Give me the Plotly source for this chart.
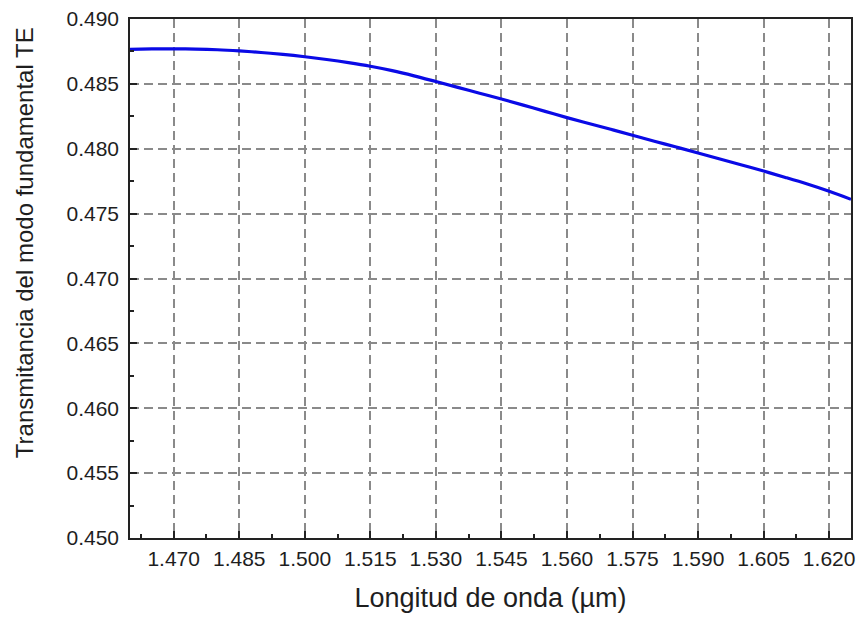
import plotly.graph_objects as go

wavelength = [1.460, 1.465, 1.470, 1.475, 1.480, 1.485, 1.490, 1.495, 1.500,
              1.505, 1.510, 1.515, 1.520, 1.525, 1.530, 1.535, 1.540, 1.545,
              1.550, 1.555, 1.560, 1.565, 1.570, 1.575, 1.580, 1.585, 1.590,
              1.595, 1.600, 1.605, 1.610, 1.615, 1.620, 1.625]
transmittance = [0.48766, 0.48769, 0.48770, 0.48768, 0.48763, 0.48754, 0.48742,
                 0.48727, 0.48709, 0.48688, 0.48664, 0.48636, 0.48602, 0.48562,
                 0.48518, 0.48473, 0.48428, 0.48383, 0.48336, 0.48288, 0.48240,
                 0.48195, 0.48150, 0.48104, 0.48058, 0.48013, 0.47967, 0.47921,
                 0.47875, 0.47828, 0.47779, 0.47728, 0.47672, 0.47610]

x_title = "Longitud de onda (µm)"
y_title = "Transmitancia del modo fundamental TE"

font_family = "Liberation Sans, Arial, sans-serif"
text_color = "#1e1e1e"

fig = go.Figure()
fig.add_trace(go.Scatter(
    x=wavelength, y=transmittance, mode="lines",
    line=dict(color="#0a0ae6", width=3.2, shape="spline", smoothing=1.0),
    showlegend=False, hoverinfo="skip",
))

axis_common = dict(
    showline=True, linecolor="#222222", linewidth=1.5, mirror=True,
    ticks="inside", ticklen=7, tickwidth=1.5, tickcolor="#222222",
    showgrid=True, gridcolor="#8a8a8a", gridwidth=2, griddash="9px,5px",
    zeroline=False, automargin=False, ticklabeloverflow="allow",
    tickfont=dict(family=font_family, size=21, color=text_color),
)

fig.update_xaxes(
    range=[1.460, 1.625], tick0=1.470, dtick=0.015, tickformat=".3f",
    ticklabelstandoff=1,
    minor=dict(dtick=0.0075, tick0=1.470, ticks="inside", ticklen=4,
               tickwidth=1.5, tickcolor="#222222", showgrid=False),
    title=dict(text=x_title, font=dict(family=font_family, size=27, color=text_color),
               standoff=19),
    **axis_common,
)
fig.update_yaxes(
    range=[0.450, 0.490], tick0=0.450, dtick=0.005, tickformat=".3f",
    ticklabelstandoff=5,
    minor=dict(dtick=0.0025, tick0=0.450, ticks="inside", ticklen=4,
               tickwidth=1.5, tickcolor="#222222", showgrid=False),
    **axis_common,
)

# y-axis title sits above the plot's vertical centre in the reference
fig.add_annotation(
    text=y_title, textangle=-90, showarrow=False,
    xref="paper", yref="paper", x=-0.147, y=0.568,
    xanchor="center", yanchor="middle",
    font=dict(family=font_family, size=24, color=text_color),
)

fig.update_layout(
    width=859, height=619,
    margin=dict(l=130, r=8, t=19, b=81),
    plot_bgcolor="white", paper_bgcolor="white",
)

fig.write_html(
    "out.html",
    config={"displayModeBar": False},
    post_script=(
        "document.body.style.margin='0';"
        "document.body.style.overflow='hidden';"
        "document.documentElement.style.overflow='hidden';"
    ),
)
